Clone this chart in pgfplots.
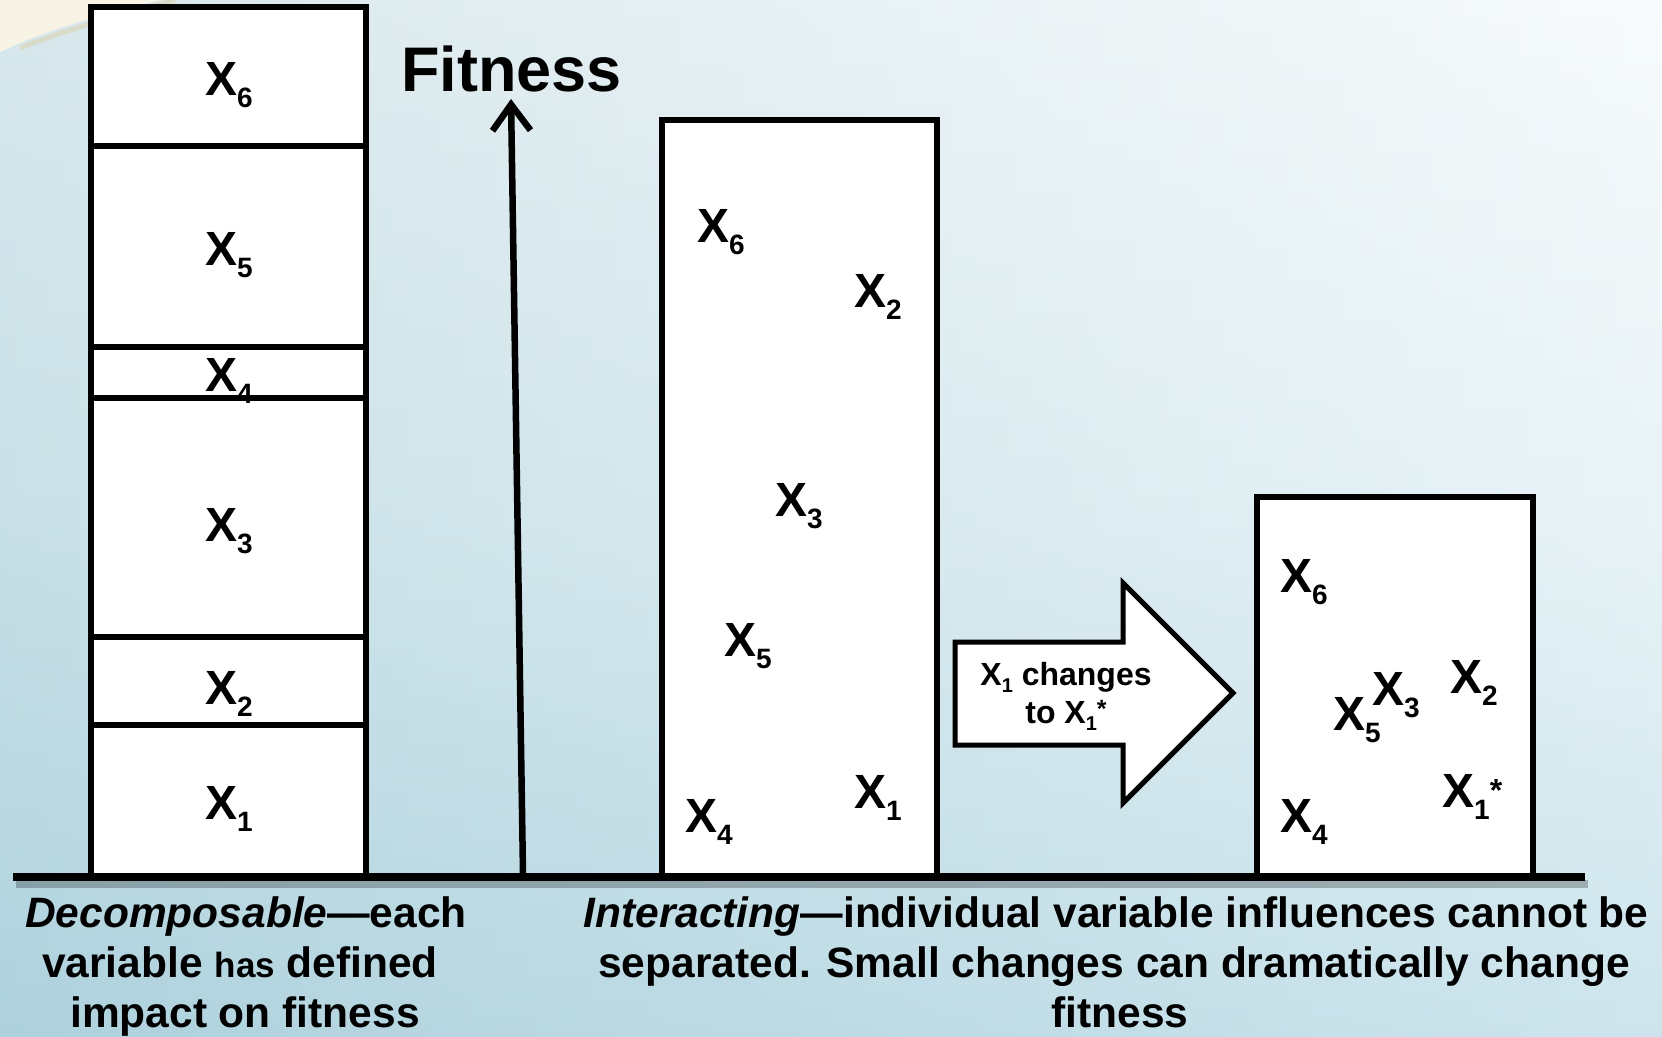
\documentclass[border=0pt]{standalone}
\usepackage{fontspec}
\setmainfont{Liberation Sans}
\usepackage{pgfplots}
\pgfplotsset{compat=1.18}
\usetikzlibrary{arrows.meta}

\definecolor{bgtop}{HTML}{F4F9FB}
\definecolor{bgmid}{HTML}{DCEDF2}
\definecolor{bgbot}{HTML}{B3D7E3}
\definecolor{bgleft}{HTML}{A4C8D2}
\definecolor{cream}{HTML}{F7F4E6}
\definecolor{gold}{HTML}{D8CE9E}

\newcommand\X[1]{X\raisebox{-12pt}{\fontsize{28}{28}\selectfont #1}}
\newcommand\Xs[1]{X\raisebox{-12pt}{\fontsize{28}{28}\selectfont #1}\raisebox{6pt}{\fontsize{32}{32}\selectfont *}}

\begin{document}
\begin{tikzpicture}
\begin{axis}[
  width=1662pt, height=1036pt, scale only axis,
  xmin=0, xmax=1662, ymin=0, ymax=1036, y dir=reverse,
  hide axis, clip=false,
]
% background
\shade[top color=bgtop, bottom color=bgbot, middle color=bgmid] (axis cs:0,0) rectangle (axis cs:1662,1036);
\shade[left color=bgleft, right color=white, opacity=0.35] (axis cs:0,0) rectangle (axis cs:1662,1036);
\fill[cream] (axis cs:0,0) -- (axis cs:160,0) .. controls (axis cs:105,14) and (axis cs:45,30) .. (axis cs:0,52) -- cycle;
\draw[gold, line width=5pt, opacity=0.45] (axis cs:175,0) .. controls (axis cs:115,16) and (axis cs:60,32) .. (axis cs:20,48);

% decomposable stack
\addplot[fill=white, draw=black, line width=5.5pt, line join=miter] coordinates {(91,877) (91,7) (366,7) (366,877)} -- cycle;
\addplot[black, line width=5.5pt] coordinates {(91,146) (366,146)};
\addplot[black, line width=5.5pt] coordinates {(91,347) (366,347)};
\addplot[black, line width=5.5pt] coordinates {(91,398) (366,398)};
\addplot[black, line width=5.5pt] coordinates {(91,637) (366,637)};
\addplot[black, line width=5.5pt] coordinates {(91,725) (366,725)};

% interacting boxes
\addplot[fill=white, draw=black, line width=5.5pt, line join=miter] coordinates {(662,877) (662,120) (937,120) (937,877)} -- cycle;
\addplot[fill=white, draw=black, line width=5.5pt, line join=miter] coordinates {(1257,877) (1257,497) (1533,497) (1533,877)} -- cycle;

% big arrow
\addplot[fill=white, draw=black, line width=5pt, line join=miter] coordinates {(955,642) (1123,642) (1123,583) (1233,693) (1123,803) (1123,745) (955,745)} -- cycle;

% baseline with shadow
\addplot[black, line width=8pt, opacity=0.25] coordinates {(16,884) (1588,884)};
\addplot[black, line width=8pt] coordinates {(13,877) (1585,877)};

% fitness axis arrow
\addplot[black, line width=6.5pt, -{Straight Barb[length=26pt, width=38pt, line width=6.5pt]}] coordinates {(523,874) (511,99)};

% variable labels
\addplot[only marks, mark=*, mark size=0pt, mark options={draw=none, fill=none, opacity=0},
  nodes near coords, point meta=explicit symbolic,
  nodes near coords style={anchor=base west, inner sep=0pt, opacity=1, text opacity=1, font=\fontsize{48}{48}\selectfont\bfseries}]
  table[meta=label] {
x y label
205 95 \X{6}
205 265 \X{5}
205 391 \X{4}
205 541 \X{3}
205 704 \X{2}
205 819 \X{1}
697 242 \X{6}
854 307 \X{2}
775 516 \X{3}
724 656 \X{5}
685 832 \X{4}
854 808 \X{1}
1280 592 \X{6}
1333 730 \X{5}
1372 705 \X{3}
1450 693 \X{2}
1442 807 \Xs{1}
1280 832 \X{4}
};

% texts
\node[anchor=base west, inner sep=0pt, font=\fontsize{63}{63}\selectfont\bfseries] at (axis cs:401,91) {Fitness};

\node[anchor=base, inner sep=0pt, font=\fontsize{32}{32}\selectfont\bfseries] at (axis cs:1066,685) {X\raisebox{-7pt}{\fontsize{20}{20}\selectfont 1} changes};
\node[anchor=base, inner sep=0pt, font=\fontsize{32}{32}\selectfont\bfseries] at (axis cs:1066,723) {to X\raisebox{-7pt}{\fontsize{20}{20}\selectfont 1}\raisebox{6pt}{\fontsize{25}{25}\selectfont *}};

\node[anchor=base, inner sep=0pt, font=\fontsize{42.5}{42.5}\selectfont\bfseries] at (axis cs:246,927) {{\itshape Decomposable}—each};
\node[anchor=base, inner sep=0pt, font=\fontsize{42.5}{42.5}\selectfont\bfseries] at (axis cs:240,977) {variable {\fontsize{35}{35}\selectfont has} defined};
\node[anchor=base, inner sep=0pt, font=\fontsize{42.5}{42.5}\selectfont\bfseries] at (axis cs:245,1027) {impact on fitness};

\node[anchor=base, inner sep=0pt, font=\fontsize{42.5}{42.5}\selectfont\bfseries] at (axis cs:1116,927) {{\itshape Interacting}—individual variable influences cannot be};
\node[anchor=base, inner sep=0pt, font=\fontsize{42.5}{42.5}\selectfont\bfseries] at (axis cs:1114,977) {separated. Small changes can dramatically change};
\node[anchor=base, inner sep=0pt, font=\fontsize{42.5}{42.5}\selectfont\bfseries] at (axis cs:1120,1027) {fitness};
\end{axis}
\pgfresetboundingbox
\useasboundingbox (current axis.south west) rectangle (current axis.north east);
\end{tikzpicture}
\end{document}
